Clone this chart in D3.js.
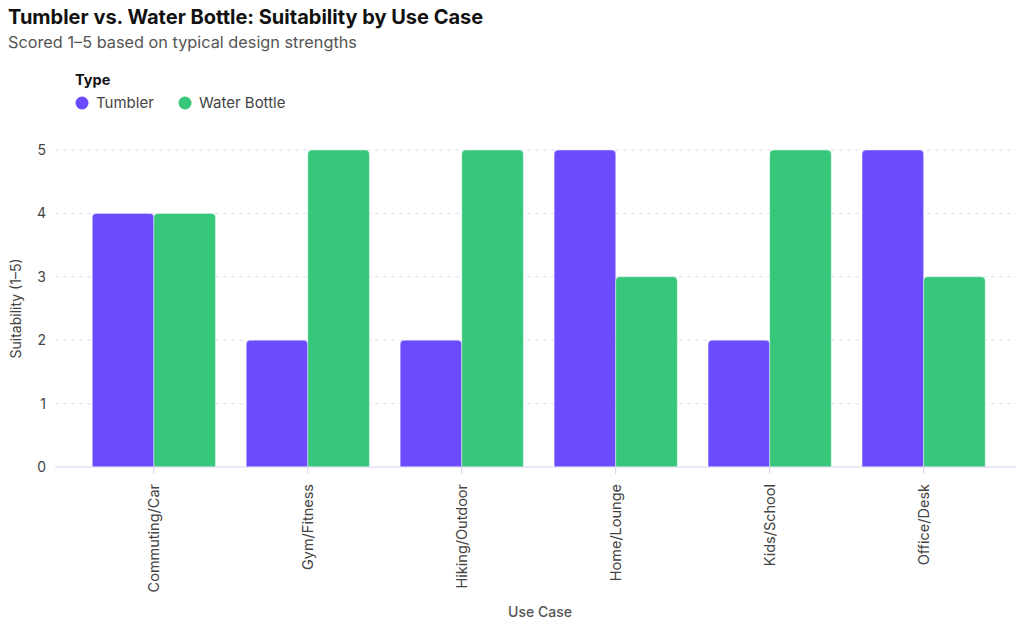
<!DOCTYPE html>
<html>
<head>
<meta charset="utf-8">
<script src="https://cdn.jsdelivr.net/npm/d3@7"></script>
<style>
  body { margin: 0; background: #fff; font-family: Inter, "Noto Sans", sans-serif; }
</style>
</head>
<body>
<div id="chart"></div>
<script>
// data
var useCases = ["Commuting/Car", "Gym/Fitness", "Hiking/Outdoor", "Home/Lounge", "Kids/School", "Office/Desk"];
var types = ["Tumbler", "Water Bottle"];
var tumblerScores = [4, 2, 2, 5, 2, 5];
var bottleScores = [4, 5, 5, 3, 5, 3];
var yTicks = [0, 1, 2, 3, 4, 5];
var colors = ["#6c4bff", "#37c77b"];

var width = 1024, height = 627;
var margin = {top: 150, right: 8, bottom: 160, left: 55};

var svg = d3.select("#chart").append("svg")
	.attr("width", width)
	.attr("height", height);

//Title and subtitle
svg.append("text")
	.attr("x", 8).attr("y", 24)
	.style("font-size", "20px").style("font-weight", 700).style("fill", "#111")
	.text("Tumbler vs. Water Bottle: Suitability by Use Case");
svg.append("text")
	.attr("x", 8).attr("y", 48)
	.style("font-size", "16.3px").style("fill", "#555")
	.text("Scored 1–5 based on typical design strengths");

//Legend
svg.append("text")
	.attr("x", 75).attr("y", 85)
	.style("font-size", "14.5px").style("font-weight", 700).style("fill", "#111")
	.text("Type");
var legendX = [82, 185];
types.forEach(function(t, i) {
	svg.append("circle")
		.attr("cx", legendX[i]).attr("cy", 103).attr("r", 6.5)
		.style("fill", colors[i]);
	svg.append("text")
		.attr("x", legendX[i] + 14).attr("y", 108)
		.style("font-size", "15px").style("fill", "#444")
		.text(t);
});

//Scales
var x0 = d3.scaleBand()
	.domain(useCases)
	.range([61.5, 1016])
	.paddingInner(0.2)
	.paddingOuter(0.2);
var x1 = d3.scaleBand()
	.domain(types)
	.range([0, x0.bandwidth()]);
var y = d3.scaleLinear()
	.domain([0, 5])
	.range([467, 150]);

//Grid
svg.append("g").selectAll("line")
	.data(yTicks.filter(function(d) { return d > 0; }))
	.enter().append("line")
	.attr("x1", margin.left).attr("x2", 1016)
	.attr("y1", function(d) { return y(d); })
	.attr("y2", function(d) { return y(d); })
	.style("stroke", "#e2ddf8")
	.style("stroke-dasharray", "4,4");

//Y axis labels
svg.append("g").selectAll("text")
	.data(yTicks)
	.enter().append("text")
	.attr("x", 46)
	.attr("y", function(d) { return y(d) + 5; })
	.attr("text-anchor", "end")
	.style("font-size", "14px").style("fill", "#444")
	.text(function(d) { return d; });

svg.append("text")
	.attr("transform", "translate(21," + y(2.5) + ") rotate(-90)")
	.attr("text-anchor", "middle")
	.style("font-size", "14px").style("fill", "#444")
	.text("Suitability (1–5)");

//Bars
var rows = useCases.map(function(c, i) {
	return {useCase: c, values: [tumblerScores[i], bottleScores[i]]};
});

function barPath(x, w, y0, y1, r) {
	return "M" + x + "," + y0 +
		"V" + (y1 + r) +
		"Q" + x + "," + y1 + " " + (x + r) + "," + y1 +
		"H" + (x + w - r) +
		"Q" + (x + w) + "," + y1 + " " + (x + w) + "," + (y1 + r) +
		"V" + y0 + "Z";
}

var groups = svg.append("g").selectAll("g")
	.data(rows)
	.enter().append("g")
	.attr("transform", function(d) { return "translate(" + x0(d.useCase) + ",0)"; });

groups.selectAll("path")
	.data(function(d) { return d.values.map(function(v, i) { return {type: types[i], value: v, i: i}; }); })
	.enter().append("path")
	.attr("d", function(d) { return barPath(x1(d.type), x1.bandwidth(), y(0), y(d.value), 4); })
	.style("fill", function(d) { return colors[d.i]; })
	.style("stroke", "#ffffff")
	.style("stroke-opacity", 0.5)
	.style("stroke-width", 0.8);

//X axis
svg.append("line")
	.attr("x1", margin.left).attr("x2", 1016)
	.attr("y1", y(0)).attr("y2", y(0))
	.style("stroke", "#d8d2f3");

var ticks = svg.append("g").selectAll("g")
	.data(useCases)
	.enter().append("g")
	.attr("transform", function(d) { return "translate(" + (x0(d) + x0.bandwidth() / 2) + "," + y(0) + ")"; });
ticks.append("line")
	.attr("y1", 0).attr("y2", 7)
	.style("stroke", "#d8d2f3");
ticks.append("text")
	.attr("transform", "translate(5,17) rotate(-90)")
	.attr("text-anchor", "end")
	.style("font-size", "14.5px").style("fill", "#444")
	.text(function(d) { return d; });

svg.append("text")
	.attr("x", 540).attr("y", 617)
	.attr("text-anchor", "middle")
	.style("font-size", "14px").style("font-weight", 500).style("fill", "#555")
	.text("Use Case");
</script>
</body>
</html>
